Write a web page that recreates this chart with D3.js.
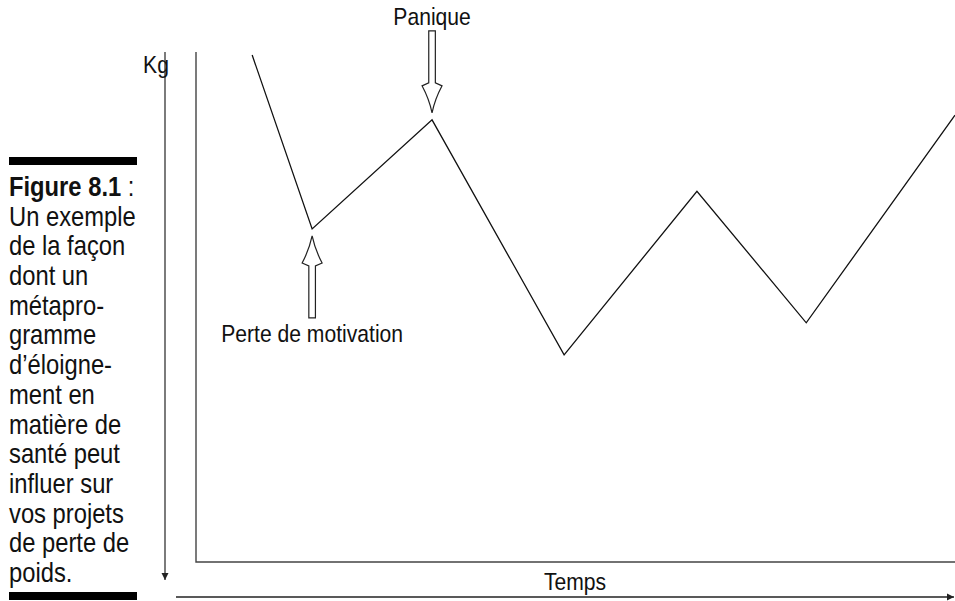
<!DOCTYPE html>
<html>
<head>
<meta charset="utf-8">
<script src="https://cdnjs.cloudflare.com/ajax/libs/d3/7.8.5/d3.min.js"></script>
<style>
    body { margin: 0; background: #fff; }
    text { font-family: "Liberation Sans", Arial, sans-serif; fill: #111; }
    .frame { fill: none; stroke: #444; stroke-width: 1.4; }
    .weightpath { fill: none; stroke: #111; stroke-width: 1.3; }
    .hollow-arrow { fill: #fff; stroke: #222; stroke-width: 1.2; }
</style>
</head>
<body>
<div id="weight-vis"></div>
<script>
// time (arbitrary units) and weight (arbitrary units)
var timePoints = [7.4, 15.3, 31.1, 48.5, 66.0, 80.4, 100];
var kgValues   = [99.4, 65.3, 86.7, 40.6, 72.7, 46.9, 87.6];

// annotations: which point, label, arrow direction
var noteIndex = [2, 1];
var noteLabels = ["Panique", "Perte de motivation"];
var noteDirs = ["down", "up"];

var axisLabels = ["Kg", "Temps"];

var captionTitle = "Figure 8.1";
var captionLines = ["Un exemple", "de la façon", "dont un", "métapro-", "gramme",
    "d\u2019éloigne-", "ment en", "matière de", "santé peut", "influer sur",
    "vos projets", "de perte de", "poids."];

// no condensed font installed, so squeeze the text horizontally
var condense = 0.88;


WeightVis = function(_parentElement){
    this.parentElement = _parentElement;
    this.data = timePoints.map(function(t, i){ return { time: t, kg: kgValues[i] }; });
    this.initVis();
}

WeightVis.prototype.initVis = function(){
    var vis = this;

    vis.width = 955;
    vis.height = 601;
    vis.margin = { top: 52, right: 0, bottom: 39, left: 196 };

    vis.svg = d3.select("#" + vis.parentElement).append("svg")
        .attr("width", vis.width)
        .attr("height", vis.height);

    vis.x = d3.scaleLinear()
        .domain([0, 100])
        .range([vis.margin.left, vis.width - vis.margin.right]);

    vis.y = d3.scaleLinear()
        .domain([0, 100])
        .range([vis.height - vis.margin.bottom, vis.margin.top]);

    vis.defs = vis.svg.append("defs");
    vis.defs.append("marker")
        .attr("id", "head")
        .attr("viewBox", "0 0 10 10")
        .attr("refX", 10).attr("refY", 5)
        .attr("markerWidth", 7).attr("markerHeight", 9)
        .attr("markerUnits", "userSpaceOnUse")
        .attr("orient", "auto")
        .append("path")
        .attr("d", "M0,0 L10,5 L0,10 Z")
        .attr("fill", "#222");

    vis.drawCaption();
    vis.drawAxes();
    vis.updateVis();
}

// helper: condensed label
WeightVis.prototype.label = function(x, y, str, anchor, size){
    var vis = this;
    return vis.svg.append("text")
        .attr("transform", "translate(" + x + "," + y + ") scale(" + condense + ",1)")
        .attr("text-anchor", anchor)
        .style("font-size", size + "px")
        .text(str);
}

WeightVis.prototype.drawCaption = function(){
    var vis = this;
    var left = 9, right = 137;

    vis.svg.append("rect")
        .attr("x", left).attr("y", 157)
        .attr("width", right - left).attr("height", 8)
        .attr("fill", "#000");
    vis.svg.append("rect")
        .attr("x", left).attr("y", 592)
        .attr("width", right - left).attr("height", 8)
        .attr("fill", "#000");

    var cap = vis.svg.append("text")
        .attr("class", "caption")
        .attr("transform", "translate(" + left + ",196) scale(" + condense + ",1)")
        .style("font-size", "27px");

    var first = cap.append("tspan").attr("x", 0);
    first.append("tspan").style("font-weight", "bold").text(captionTitle);
    first.append("tspan").text(" :");

    captionLines.forEach(function(line){
        cap.append("tspan")
            .attr("x", 0)
            .attr("dy", 29.7)
            .text(line);
    });
}

WeightVis.prototype.drawAxes = function(){
    var vis = this;
    var x0 = vis.x(0), x1 = vis.x(100), y0 = vis.y(0), y1 = vis.y(100);

    // open frame (left + bottom)
    vis.svg.append("path")
        .attr("class", "frame")
        .attr("d", "M" + x0 + "," + y1 + " L" + x0 + "," + y0 + " L" + x1 + "," + y0);

    // Kg arrow (pointing down)
    vis.svg.append("line")
        .attr("x1", 165).attr("y1", y1)
        .attr("x2", 165).attr("y2", 580)
        .attr("stroke", "#444").attr("stroke-width", 1.4)
        .attr("marker-end", "url(#head)");

    vis.label(156, 73, axisLabels[0], "middle", 24);

    // time arrow
    vis.svg.append("line")
        .attr("x1", 176).attr("y1", 597)
        .attr("x2", 954).attr("y2", 597)
        .attr("stroke", "#222").attr("stroke-width", 1.4)
        .attr("marker-end", "url(#head)");

    vis.label(575, 590, axisLabels[1], "middle", 24);
}

WeightVis.prototype.updateVis = function(){
    var vis = this;

    vis.valueLine = d3.line()
        .x(function(d){ return vis.x(d.time); })
        .y(function(d){ return vis.y(d.kg); });

    vis.svg.append("path")
        .datum(vis.data)
        .attr("class", "weightpath")
        .attr("d", vis.valueLine);

    //======= hollow arrows pointing at the turning points ======//
    noteIndex.forEach(function(idx, i){
        var d = vis.data[idx];
        var cx = vis.x(d.time);
        var cy = vis.y(d.kg);
        var s = noteDirs[i] === "down" ? -1 : 1;   // -1: arrow above the point
        var tip = cy + s * 7;
        var len = 82, headLen = 30, sw = 3.3, hw = 10;
        var tail = tip + s * len;
        var neck = tip + s * headLen;
        var barb = tip + s * (headLen - 3);

        var p = d3.path();
        p.moveTo(cx - sw, tail);
        p.lineTo(cx - sw, neck);
        p.lineTo(cx - hw, barb);
        p.quadraticCurveTo(cx - 3, tip + s * 14, cx, tip);
        p.quadraticCurveTo(cx + 3, tip + s * 14, cx + hw, barb);
        p.lineTo(cx + sw, neck);
        p.lineTo(cx + sw, tail);
        p.closePath();

        vis.svg.append("path")
            .attr("class", "hollow-arrow")
            .attr("d", p.toString());

        if (s < 0) {
            vis.label(cx, tail - 6, noteLabels[i], "middle", 24);
        } else {
            vis.label(cx, tail + 24, noteLabels[i], "middle", 24);
        }
    });
}

var weightVis = new WeightVis("weight-vis");
</script>
</body>
</html>
